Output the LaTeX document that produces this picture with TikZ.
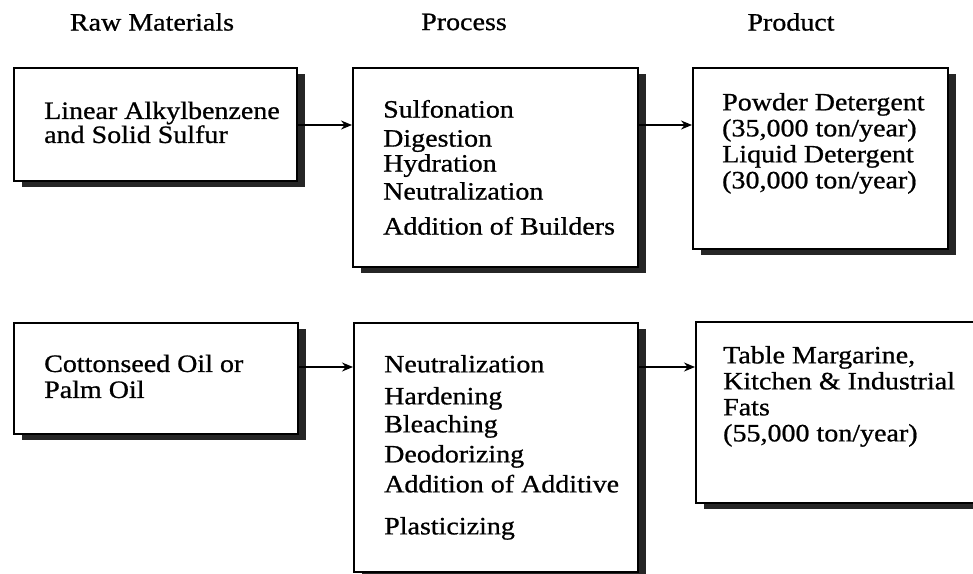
\documentclass[tikz,border=0pt]{standalone}
\usepackage{fontspec}
\setmainfont{Liberation Serif}[FakeStretch=1.12, FakeBold=0.8]
\usetikzlibrary{arrows.meta,positioning,shadows}

\tikzset{
  box/.style={draw, line width=1.8pt, fill=white, anchor=north west, inner sep=0pt,
    drop shadow={shadow xshift=8pt, shadow yshift=-6pt, fill=black!85, opacity=1}},
  txt/.style={align=left, inner sep=0pt, font=\fontsize{25}{26}\selectfont},
  head/.style={inner sep=0pt, font=\fontsize{25}{26}\selectfont},
  flow/.style={-{Stealth[length=11pt,width=9pt]}, line width=1.5pt}
}

\begin{document}
\begin{tikzpicture}[x=1pt, y=-1pt]
    \clip (0,0) rectangle (973,573);

    % TITULOS
    \node[head] (hraw) at (152,22) {Raw Materials};
    \node[head] (hproc) at (464,22) {Process};
    \node[head] (hprod) at (791,22) {Product};

    % FILA 1 : DETERGENTES
    \node[box, minimum width=283pt, minimum height=113pt] (raw1) at (13,67) {};
    \node[box, minimum width=285pt, minimum height=199pt] (proc1) at (352,67) {};
    \node[box, minimum width=255pt, minimum height=181pt] (prod1) at (692,67) {};

    \node[txt, right=31pt of raw1.west, yshift=2pt] (raw1txt)
        {Linear Alkylbenzene\\[-2pt]and Solid Sulfur};
    \node[txt, right=31pt of proc1.west] (proc1txt)
        {Sulfonation\\[3pt]Digestion\\[-1pt]Hydration\\[2pt]Neutralization\\[9pt]Addition of Builders};
    \node[txt, right=30pt of prod1.west, yshift=15pt] (prod1txt)
        {Powder Detergent\\(35,000 ton/year)\\Liquid Detergent\\(30,000 ton/year)};

    % FILA 2 : GRASAS
    \node[box, minimum width=284pt, minimum height=111pt] (raw2) at (13,322) {};
    \node[box, minimum width=284pt, minimum height=249pt] (proc2) at (353,322) {};
    \node[box, minimum width=290pt, minimum height=181pt] (prod2) at (695,321) {};

    \node[txt, right=31pt of raw2.west, yshift=2pt] (raw2txt)
        {Cottonseed Oil or\\Palm Oil};
    \node[txt, right=31pt of proc2.west, font=\fontsize{25}{30}\selectfont] (proc2txt)
        {Neutralization\\[2pt]Hardening\\[-2pt]Bleaching\\Deodorizing\\Addition of Additive\\[12pt]Plasticizing};
    \node[txt, right=28pt of prod2.west, yshift=16pt] (prod2txt)
        {Table Margarine,\\Kitchen \& Industrial\\Fats\\(55,000 ton/year)};

    % FLECHAS
    \coordinate (row1) at (0,125);
    \coordinate (row2) at (0,367);
    \draw[flow] (raw1.east |- row1) -- (proc1.west |- row1);
    \draw[flow] (proc1.east |- row1) -- (prod1.west |- row1);
    \draw[flow] (raw2.east |- row2) -- (proc2.west |- row2);
    \draw[flow] (proc2.east |- row2) -- (prod2.west |- row2);

\end{tikzpicture}
\end{document}
